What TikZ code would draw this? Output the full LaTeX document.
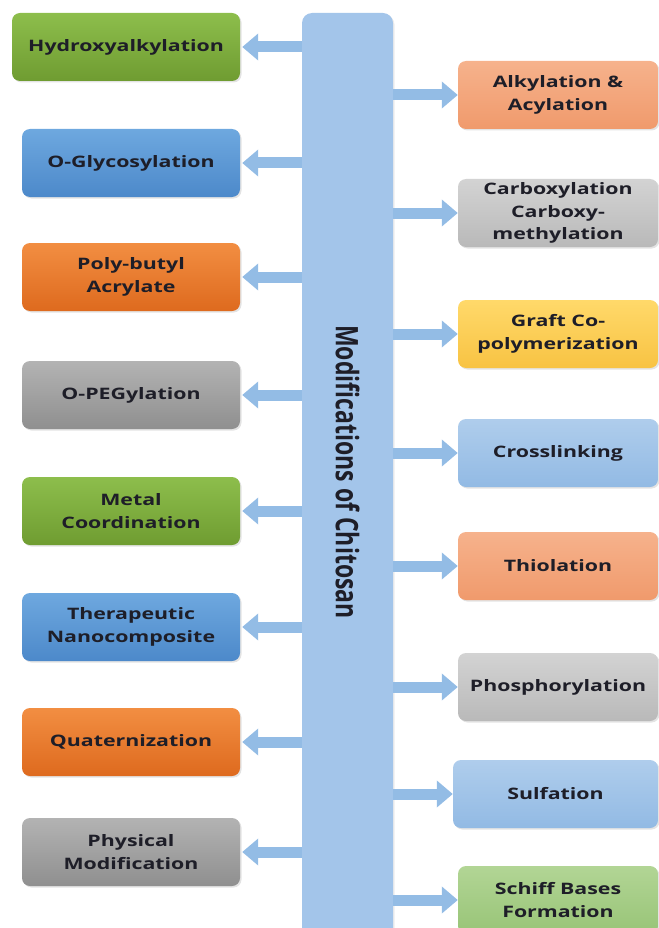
\documentclass[tikz,border=0pt]{standalone}
\usepackage{fontspec}
\usepackage{graphicx}
\setmainfont{Open Sans}[FakeStretch=1.35]
\newfontfamily\titlefont{Open Sans}
\usetikzlibrary{shadows,arrows.meta}
\definecolor{txt}{HTML}{1E1E28}
\definecolor{barc}{HTML}{A3C5EA}
\definecolor{arrc}{HTML}{93BCE5}
\definecolor{gA}{HTML}{8DBE4C}\definecolor{gB}{HTML}{6F9C31}
\definecolor{bA}{HTML}{6EA8DF}\definecolor{bB}{HTML}{4C89CA}
\definecolor{oA}{HTML}{F28E42}\definecolor{oB}{HTML}{DE6A1E}
\definecolor{yA}{HTML}{B3B3B3}\definecolor{yB}{HTML}{8F8F8F}
\definecolor{sA}{HTML}{F6B28C}\definecolor{sB}{HTML}{F09A6C}
\definecolor{lgA}{HTML}{D3D3D3}\definecolor{lgB}{HTML}{B9B9B9}
\definecolor{ylA}{HTML}{FFD96A}\definecolor{ylB}{HTML}{F8C343}
\definecolor{lbA}{HTML}{AFCDEC}\definecolor{lbB}{HTML}{92BAE4}
\definecolor{lnA}{HTML}{B2D595}\definecolor{lnB}{HTML}{98C477}
\tikzset{
  box/.style={rounded corners=8pt, minimum height=68pt, inner sep=0pt,
    align=center, text=txt, font=\bfseries\fontsize{15.8}{22.5}\selectfont,
    drop shadow={opacity=0.22,shadow xshift=1.5pt,shadow yshift=-1.5pt}},
  lbox/.style={box, minimum width=218pt},
  rbox/.style={box, minimum width=200pt},
  green/.style={top color=gA, bottom color=gB},
  blue/.style={top color=bA, bottom color=bB},
  orange/.style={top color=oA, bottom color=oB},
  gray/.style={top color=yA, bottom color=yB},
  salmon/.style={top color=sA, bottom color=sB},
  lgray/.style={top color=lgA, bottom color=lgB},
  yellow/.style={top color=ylA, bottom color=ylB},
  lblue/.style={top color=lbA, bottom color=lbB},
  lgreen/.style={top color=lnA, bottom color=lnB},
  arr/.style={draw=arrc, line width=11pt, -{Triangle[width=26pt,length=16pt]}}
}
\begin{document}
\begin{tikzpicture}[x=1pt,y=-1pt]
\useasboundingbox (0,0) rectangle (658,928);
% central bar
\node[fill=barc, rounded corners=10pt, minimum width=91pt, minimum height=960pt, inner sep=0pt,
  drop shadow={opacity=0.15,shadow xshift=1.5pt,shadow yshift=-1.5pt}] (bar) at (347.5,493) {};
\node[rotate=-90, text=txt, font=\titlefont\bfseries\fontsize{23}{26}\selectfont] (title) at (347.5,472)
  {\scalebox{1}[1.35]{Modifications of Chitosan}};
% left boxes
\node[lbox, green, minimum width=228pt] (l1) at (126,47) {Hydroxyalkylation};
\node[lbox, blue] (l2) at (131,163) {O-Glycosylation};
\node[lbox, orange] (l3) at (131,277) {Poly-butyl\\Acrylate};
\node[lbox, gray] (l4) at (131,395) {O-PEGylation};
\node[lbox, green] (l5) at (131,511) {Metal\\Coordination};
\node[lbox, blue] (l6) at (131,627) {Therapeutic\\Nanocomposite};
\node[lbox, orange] (l7) at (131,742) {Quaternization};
\node[lbox, gray] (l8) at (131,852) {Physical\\Modification};
% right boxes
\node[rbox, salmon] (r1) at (558,95) {Alkylation \&\\Acylation};
\node[rbox, lgray] (r2) at (558,213) {Carboxylation\\Carboxy-\\methylation};
\node[rbox, yellow] (r3) at (558,334) {Graft Co-\\polymerization};
\node[rbox, lblue] (r4) at (558,453) {Crosslinking};
\node[rbox, salmon] (r5) at (558,566) {Thiolation};
\node[rbox, lgray] (r6) at (558,687) {Phosphorylation};
\node[rbox, lblue, minimum width=205pt] (r7) at (555.5,794) {Sulfation};
\node[rbox, lgreen] (r8) at (558,900) {Schiff Bases\\Formation};
% arrows
\foreach \n in {l1,l2,l3,l4,l5,l6,l7,l8}
  \draw[arr] (bar.west |- \n.east) -- ([xshift=2pt]\n.east);
\foreach \n in {r1,r2,r3,r4,r5,r6,r7,r8}
  \draw[arr] (bar.east |- \n.west) -- (\n.west);
\end{tikzpicture}
\end{document}
